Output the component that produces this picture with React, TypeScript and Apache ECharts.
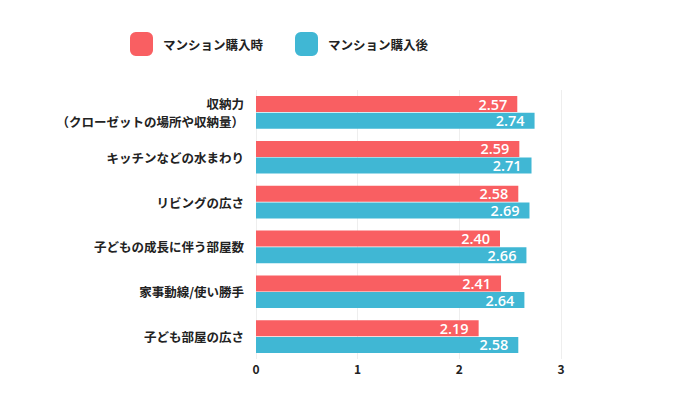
import React, { useEffect, useRef } from "react";
import * as echarts from "echarts";

const categories = [
  "収納力\n（クローゼットの場所や収納量）",
  "キッチンなどの水まわり",
  "リビングの広さ",
  "子どもの成長に伴う部屋数",
  "家事動線/使い勝手",
  "子ども部屋の広さ",
];
const seriesNames = ["マンション購入時", "マンション購入後"];
const beforeValues = [2.57, 2.59, 2.58, 2.4, 2.41, 2.19];
const afterValues = [2.74, 2.71, 2.69, 2.66, 2.64, 2.58];
const xTicks = [0, 1, 2, 3];

export default function App() {
  const ref = useRef<HTMLDivElement>(null);
  useEffect(() => {
    if (!ref.current) return;
    const chart = echarts.init(ref.current, null, { renderer: "svg" });
    const font = "'Noto Sans CJK JP', 'Noto Sans', sans-serif";
    const label = {
      show: true,
      position: "insideRight",
      distance: 10,
      color: "#fff",
      fontSize: 14.5,
      lineHeight: 14,
      fontWeight: 600,
      fontFamily: "'Open Sans', sans-serif",
      offset: [0, 0],
      formatter: (p: any) => p.value.toFixed(2),
    };
    chart.setOption({
      animation: false,
      legend: {
        top: 27,
        left: 125,
        itemWidth: 23,
        itemHeight: 24,
        itemGap: 32,
        icon: "roundRect",
        textStyle: { fontFamily: font, fontSize: 12.5, fontWeight: "bold", color: "#222", padding: [0, 0, 0, 5] },
        data: seriesNames,
      },
      grid: { left: 256, right: 130, top: 90, bottom: 40 },
      xAxis: {
        type: "value",
        min: 0,
        max: xTicks[xTicks.length - 1],
        interval: 1,
        axisLine: { show: false },
        axisTick: { show: false },
        splitLine: { lineStyle: { color: "#eeeeee" } },
        axisLabel: { fontFamily: font, fontSize: 12, fontWeight: "bold", color: "#222", margin: 3 },
      },
      yAxis: {
        type: "category",
        inverse: true,
        data: categories,
        axisLine: { show: false },
        axisTick: { show: false },
        axisLabel: { fontFamily: font, fontSize: 12.5, fontWeight: "bold", color: "#222", margin: 12, lineHeight: 18 },
      },
      series: [
        {
          name: seriesNames[0],
          type: "bar",
          data: beforeValues,
          barWidth: 16,
          barGap: "4%",
          itemStyle: { color: "#F95F62" },
          label,
        },
        {
          name: seriesNames[1],
          type: "bar",
          data: afterValues,
          barWidth: 16,
          itemStyle: { color: "#40B7D4" },
          label,
        },
      ],
    });
    return () => chart.dispose();
  }, []);
  return <div ref={ref} style={{ width: 691, height: 399, margin: -8 }} />;
}
